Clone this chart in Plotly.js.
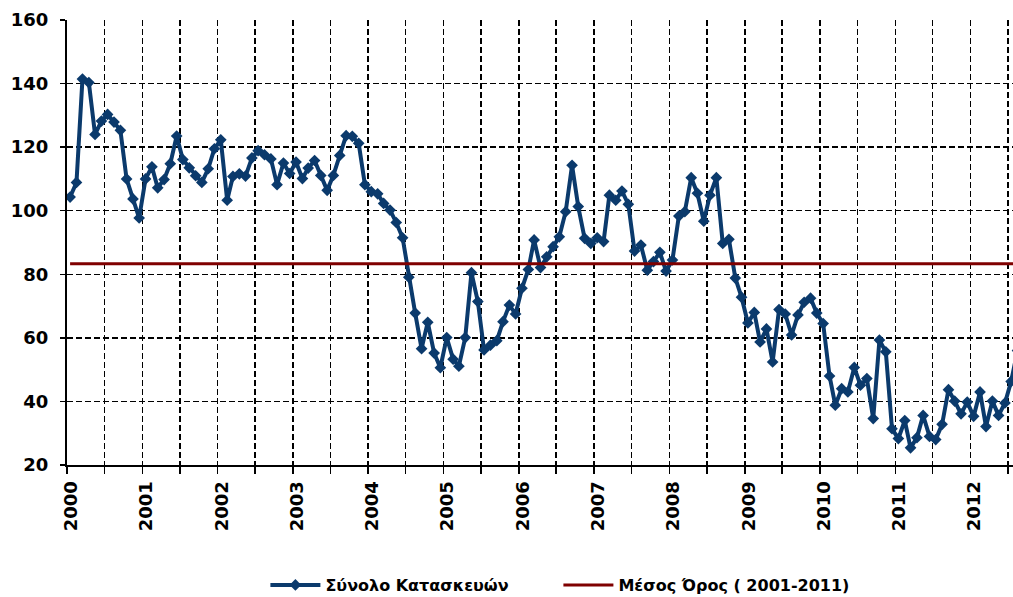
<!DOCTYPE html>
<html>
<head>
<meta charset="utf-8">
<script src="https://cdn.plot.ly/plotly-3.0.1.min.js"></script>
<style>html,body{margin:0;padding:0;background:#fff;}#chart{width:1013px;height:597px;}</style>
</head>
<body>
<div id="chart"></div>
<script>
// Monthly values, January 2000 onwards
const startYear = 2000;
const v2000 = [104.3, 108.9, 141.4, 140.3, 124.0, 128.2, 130.3, 127.9, 125.3, 110.0, 103.7, 97.7];
const v2001 = [110.0, 113.8, 107.2, 109.8, 114.8, 123.5, 116.1, 113.5, 111.0, 108.9, 113.2, 119.5];
const v2002 = [122.3, 103.3, 110.8, 111.6, 110.9, 116.6, 118.9, 117.6, 116.3, 108.2, 115.0, 111.7];
const v2003 = [115.3, 110.1, 113.4, 115.8, 111.1, 106.4, 111.1, 117.4, 123.6, 123.4, 121.2, 108.2];
const v2004 = [106.0, 105.3, 102.3, 100.2, 96.3, 91.5, 79.1, 67.8, 56.6, 64.9, 55.2, 50.6];
const v2005 = [60.1, 53.3, 51.1, 60.1, 80.5, 71.4, 56.2, 57.7, 59.1, 65.1, 70.3, 67.5];
const v2006 = [75.6, 81.5, 90.8, 82.1, 85.5, 88.7, 91.8, 99.7, 114.3, 101.3, 91.3, 89.7];
const v2007 = [91.5, 90.3, 104.9, 103.3, 106.2, 102.0, 87.3, 89.2, 81.3, 84.0, 86.9, 81.0];
const v2008 = [84.5, 98.3, 99.7, 110.4, 105.5, 96.7, 104.9, 110.4, 89.7, 91.0, 78.8, 72.8];
const v2009 = [64.7, 68.0, 58.7, 62.8, 52.4, 68.9, 67.5, 60.9, 67.2, 71.2, 72.5, 67.8];
const v2010 = [64.5, 48.0, 38.8, 44.0, 43.0, 50.7, 45.1, 47.2, 34.6, 59.3, 55.6, 31.4];
const v2011 = [28.3, 34.0, 25.4, 28.6, 35.6, 29.0, 28.0, 32.8, 43.7, 40.1, 36.1, 39.8];
const v2012 = [35.3, 43.0, 32.1, 40.1, 35.6, 39.5, 46.3, 56.0];
const meanValue = 83.3;   // Μέσος Όρος (2001-2011)
const seriesName = 'Σύνολο Κατασκευών';
const meanName = 'Μέσος Όρος ( 2001-2011)';

const values = [].concat(v2000, v2001, v2002, v2003, v2004, v2005, v2006,
                         v2007, v2008, v2009, v2010, v2011, v2012);
const months = values.map((_, i) => {
  const y = startYear + Math.floor(i / 12);
  const m = (i % 12) + 1;
  return y + '-' + String(m).padStart(2, '0') + '-16';
});

const fontFam = 'DejaVu Sans, Verdana, sans-serif';
const navy = '#0b3a6c';

const traces = [
  {
    type: 'scatter', mode: 'lines+markers', name: seriesName,
    x: months, y: values,
    line: {color: navy, width: 4},
    marker: {symbol: 'diamond', size: 9, color: navy}
  },
  {
    type: 'scatter', mode: 'lines', name: meanName,
    x: [months[0], months[months.length - 1]], y: [meanValue, meanValue],
    line: {color: '#7f0000', width: 3}
  }
];

const gridDash = '6px,3px';
const layout = {
  width: 1013, height: 597,
  margin: {l: 67, r: 0, t: 20, b: 132},
  paper_bgcolor: '#fff', plot_bgcolor: '#fff',
  font: {family: fontFam, color: '#000', size: 16, weight: 'bold'},
  showlegend: true,
  legend: {
    orientation: 'h', xref: 'container', yref: 'container',
    x: 0.262, y: 0.02, xanchor: 'left', yanchor: 'middle',
    font: {family: fontFam, size: 16, color: '#000', weight: 'bold'},
    itemwidth: 50, entrywidth: 228, entrywidthmode: 'pixels',
    bgcolor: 'rgba(0,0,0,0)'
  },
  xaxis: {
    type: 'date',
    range: ['2000-01-01', '2012-07-25'],
    tick0: '2000-01-01', dtick: 'M12', tickformat: '%Y',
    tickangle: -90, ticklabelshift: 4,
    tickfont: {family: fontFam, size: 18, color: '#000', weight: 'bold'},
    ticks: 'outside', ticklen: 7, tickwidth: 1.5, tickcolor: '#000',
    showgrid: true, gridcolor: '#000', gridwidth: 1.5, griddash: gridDash,
    minor: {dtick: 'M6', tick0: '2000-01-01', showgrid: true, gridcolor: '#000',
            gridwidth: 1.5, griddash: gridDash, ticks: 'outside', ticklen: 7,
            tickwidth: 1.5, tickcolor: '#000'},
    showline: true, linecolor: '#000', linewidth: 2,
    zeroline: false, fixedrange: true
  },
  yaxis: {
    range: [20, 160], dtick: 20, tick0: 20,
    tickfont: {family: fontFam, size: 18, color: '#000', weight: 'bold'},
    ticks: 'outside', ticklen: 5, tickwidth: 1.5, tickcolor: '#000',
    ticklabelstandoff: 8,
    showgrid: true, gridcolor: '#000', gridwidth: 1.5, griddash: gridDash,
    showline: true, linecolor: '#000', linewidth: 2,
    zeroline: false, fixedrange: true
  }
};

Plotly.newPlot('chart', traces, layout, {displayModeBar: false, staticPlot: true});
</script>
</body>
</html>
